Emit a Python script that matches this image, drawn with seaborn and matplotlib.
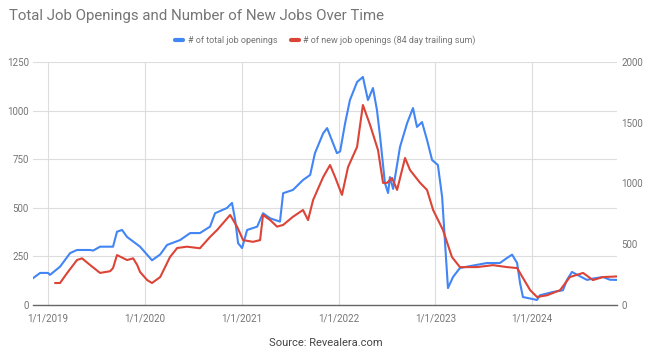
import pandas as pd
import matplotlib
matplotlib.use("Agg")
import matplotlib.pyplot as plt
import seaborn as sns

# === Data ===

total_dates = [
    "2018-11-02", "2018-12-02", "2019-01-01", "2019-01-08", "2019-02-15", "2019-03-25",
    "2019-04-20", "2019-06-08", "2019-06-20", "2019-07-16", "2019-09-03", "2019-09-18",
    "2019-10-07", "2019-10-26", "2019-12-14", "2020-01-28", "2020-02-28", "2020-03-25",
    "2020-05-13", "2020-06-20", "2020-07-27", "2020-09-03", "2020-09-22", "2020-11-06",
    "2020-11-25", "2020-12-07", "2020-12-18", "2021-01-02", "2021-01-21", "2021-02-28",
    "2021-03-22", "2021-04-18", "2021-05-25", "2021-06-06", "2021-07-13", "2021-08-20",
    "2021-09-16", "2021-10-04", "2021-11-04", "2021-11-19", "2021-12-11", "2021-12-26",
    "2022-01-07", "2022-01-26", "2022-02-13", "2022-03-12", "2022-04-03", "2022-04-22",
    "2022-05-11", "2022-05-26", "2022-06-07", "2022-06-25", "2022-07-07", "2022-07-14",
    "2022-07-26", "2022-08-21", "2022-09-17", "2022-10-09", "2022-10-24", "2022-11-12",
    "2022-12-01", "2022-12-20", "2023-01-11", "2023-01-27", "2023-02-07", "2023-02-18",
    "2023-03-09", "2023-04-04", "2023-05-12", "2023-07-15", "2023-09-02", "2023-09-29",
    "2023-10-18", "2023-11-06", "2023-11-17", "2023-11-28", "2024-01-20", "2024-01-31",
    "2024-03-20", "2024-04-27", "2024-05-12", "2024-05-31", "2024-06-23", "2024-07-27",
    "2024-08-18", "2024-09-25", "2024-10-21", "2024-11-17",
]
total_openings = [
    135, 165, 165, 155, 197, 267,
    283, 283, 280, 300, 300, 377,
    386, 350, 300, 230, 260, 309,
    334, 370, 370, 403, 472, 499,
    525, 437, 318, 293, 386, 403,
    472, 446, 429, 575, 592, 643,
    669, 781, 883, 910, 833, 781,
    790, 936, 1054, 1147, 1173, 1054,
    1116, 1003, 864, 628, 576, 658,
    597, 813, 936, 1013, 916, 941,
    849, 746, 720, 556, 319, 87,
    144, 190, 200, 216, 216, 242,
    259, 216, 113, 41, 26, 50,
    67, 76, 129, 170, 153, 129,
    136, 144, 130, 129,
]

new_dates = [
    "2019-01-27", "2019-02-15", "2019-03-14", "2019-04-20", "2019-05-09", "2019-06-08",
    "2019-07-16", "2019-08-23", "2019-09-03", "2019-09-18", "2019-10-26", "2019-11-18",
    "2019-12-03", "2019-12-14", "2020-01-10", "2020-01-28", "2020-02-28", "2020-04-05",
    "2020-05-02", "2020-06-08", "2020-07-27", "2020-09-03", "2020-09-30", "2020-11-18",
    "2020-12-14", "2021-01-06", "2021-02-12", "2021-03-11", "2021-03-22", "2021-04-18",
    "2021-05-14", "2021-06-06", "2021-07-13", "2021-08-20", "2021-09-08", "2021-09-27",
    "2021-11-04", "2021-11-30", "2021-12-19", "2022-01-14", "2022-02-06", "2022-03-12",
    "2022-04-03", "2022-04-30", "2022-05-30", "2022-06-18", "2022-07-03", "2022-07-22",
    "2022-08-10", "2022-09-09", "2022-09-28", "2022-11-05", "2022-12-01", "2022-12-24",
    "2023-01-30", "2023-03-05", "2023-04-04", "2023-06-08", "2023-08-07", "2023-09-29",
    "2023-11-06", "2023-12-25", "2024-01-20", "2024-02-27", "2024-04-16", "2024-05-23",
    "2024-07-12", "2024-08-18", "2024-09-25", "2024-11-17",
]
new_openings = [
    181, 181, 264, 370, 384, 330,
    264, 278, 304, 411, 370, 384,
    330, 272, 205, 181, 230, 395,
    469, 480, 467, 560, 618, 741,
    645, 534, 520, 534, 741, 699,
    645, 659, 726, 782, 699, 864,
    1053, 1152, 1053, 906, 1136, 1301,
    1646, 1482, 1275, 1005, 1005, 1045,
    947, 1210, 1110, 1005, 947, 782,
    618, 395, 312, 312, 328, 312,
    304, 123, 66, 80, 122, 230,
    264, 205, 230, 235,
]

year_ticks = ["2019-01-01", "2020-01-01", "2021-01-01", "2022-01-01", "2023-01-01", "2024-01-01"]
year_labels = ["1/1/2019", "1/1/2020", "1/1/2021", "1/1/2022", "1/1/2023", "1/1/2024"]

total_df = pd.DataFrame({"date": pd.to_datetime(total_dates), "value": total_openings})
new_df = pd.DataFrame({"date": pd.to_datetime(new_dates), "value": new_openings})

# === Plot ===

sns.set_theme(style="white")
plt.rcParams["font.family"] = ["Roboto", "DejaVu Sans"]

blue = "#4285F4"
red = "#DB4437"
grey_text = "#757575"

fig = plt.figure(figsize=(6.51, 3.54), dpi=100)
ax = fig.add_axes([0.0507, 0.1384, 0.8971, 0.6865])
ax2 = ax.twinx()

sns.lineplot(data=total_df, x="date", y="value", ax=ax, color=blue, linewidth=1.5)
sns.lineplot(data=new_df, x="date", y="value", ax=ax2, color=red, linewidth=1.5)

ax.set_xlim(pd.Timestamp("2018-11-05"), pd.Timestamp("2024-11-17"))
ax.set_ylim(0, 1250)
ax2.set_ylim(0, 2000)
ax.set_yticks([0, 250, 500, 750, 1000, 1250])
ax2.set_yticks([0, 500, 1000, 1500, 2000])
ax.set_xticks(pd.to_datetime(year_ticks))
ax.set_xticklabels(year_labels)

ax.grid(True, color="#dddddd", linewidth=0.8)
ax2.grid(False)
ax.set_axisbelow(True)

for a in (ax, ax2):
    a.set_xlabel("")
    a.set_ylabel("")
    for side in ("top", "left", "right", "bottom"):
        a.spines[side].set_visible(False)
    a.tick_params(axis="both", length=0, labelsize=7, colors=grey_text, pad=5)
ax.spines["bottom"].set_visible(True)
ax.spines["bottom"].set_color("#666666")
ax.spines["bottom"].set_linewidth(1)
ax.tick_params(axis="x", pad=6)
ax.tick_params(axis="y", pad=3)
ax2.tick_params(axis="y", pad=3)

fig.text(0.014, 0.955, "Total Job Openings and Number of New Jobs Over Time",
         fontsize=10.8, color=grey_text, ha="left", va="center")
fig.text(0.5, 0.03, "Source: Revealera.com", fontsize=8, color="#444444",
         ha="center", va="center")

handles = [
    plt.Line2D([], [], color=blue, linewidth=3),
    plt.Line2D([], [], color=red, linewidth=3),
]
fig.legend(handles, ["# of total job openings", "# of new job openings (84 day trailing sum)"],
           loc="center", bbox_to_anchor=(0.5, 0.885), ncol=2, frameon=False,
           fontsize=6.5, labelcolor=grey_text, handlelength=0.9, handletextpad=0.5,
           columnspacing=1.5)

fig.savefig("out.png", dpi=100)
plt.close(fig)
